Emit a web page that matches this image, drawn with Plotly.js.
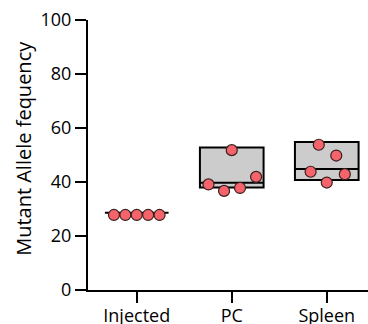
<!DOCTYPE html>
<html>
<head>
<meta charset="utf-8">
<script src="https://cdn.plot.ly/plotly-3.0.1.min.js"></script>
<style>html,body{margin:0;padding:0;background:#fff;}#chart{width:368px;height:324px;}</style>
</head>
<body>
<div id="chart"></div>
<script>
// Categories and values
const categories = ["Injected", "PC", "Spleen"];
const injectedValues = [27.8, 27.8, 27.8, 27.8, 27.8];
const pcValues = [39.1, 36.7, 51.8, 37.8, 41.9];
const spleenValues = [43.8, 39.8, 53.8, 49.8, 42.9];
// horizontal spread of the dots within each group (category units)
const injectedJitter = [-0.24, -0.12, 0, 0.12, 0.24];
const pcJitter = [-0.245, -0.081, 0, 0.087, 0.256];
const spleenJitter = [-0.17, 0, -0.084, 0.1, 0.19];
// floating box: low, middle line, high
const boxLow = [28.6, 38.0, 40.7];
const boxMid = [28.6, 39.7, 44.8];
const boxHigh = [28.6, 52.8, 54.8];
const yTicks = [0, 20, 40, 60, 80, 100];
const yTitle = "Mutant Allele fequency";

const catIdx = categories.map((c, i) => i);

const boxTrace = {
  type: "box",
  x: catIdx,
  q1: boxLow,
  median: boxMid,
  q3: boxHigh,
  lowerfence: boxLow,
  upperfence: boxHigh,
  width: 0.67,
  whiskerwidth: 0,
  fillcolor: "#cccccc",
  line: { color: "#000000", width: 2 },
  boxpoints: false,
  hoverinfo: "skip",
  showlegend: false
};

const groups = [injectedValues, pcValues, spleenValues];
const jitters = [injectedJitter, pcJitter, spleenJitter];
const xs = [], ys = [];
groups.forEach((vals, i) => {
  vals.forEach((v, j) => { xs.push(i + jitters[i][j]); ys.push(v); });
});

const pointTrace = {
  type: "scatter",
  mode: "markers",
  x: xs,
  y: ys,
  marker: { size: 11, color: "#f4646a", line: { color: "#3a2020", width: 1.2 } },
  cliponaxis: false,
  hoverinfo: "skip",
  showlegend: false
};

const layout = {
  width: 368,
  height: 324,
  margin: { l: 88, r: 0, t: 20, b: 34 },
  paper_bgcolor: "#ffffff",
  plot_bgcolor: "#ffffff",
  font: { family: "Open Sans, sans-serif", color: "#000000" },
  showlegend: false,
  xaxis: {
    range: [-0.513, 2.434],
    tickvals: catIdx,
    ticktext: categories,
    ticks: "outside",
    ticklen: 11,
    tickwidth: 2,
    tickcolor: "#000000",
    ticklabelstandoff: -3,
    showline: true,
    linecolor: "#000000",
    linewidth: 2,
    showgrid: false,
    zeroline: false,
    tickfont: { size: 18, family: "Open Sans, sans-serif", color: "#000000" },
    fixedrange: true
  },
  yaxis: {
    range: [0, 100],
    tickvals: yTicks,
    ticks: "outside",
    ticklen: 11,
    tickwidth: 2,
    tickcolor: "#000000",
    showline: true,
    linecolor: "#000000",
    linewidth: 2,
    showgrid: false,
    zeroline: false,
    tickfont: { size: 18, family: "Open Sans, sans-serif", color: "#000000" },
    fixedrange: true
  },
  annotations: [{
    text: yTitle,
    xref: "paper", yref: "paper",
    x: -0.229, y: 0.526,
    xanchor: "center", yanchor: "middle",
    textangle: -90,
    showarrow: false,
    font: { size: 20, family: "Open Sans, sans-serif", color: "#000000" }
  }]
};

Plotly.newPlot("chart", [boxTrace, pointTrace], layout, { staticPlot: true, displayModeBar: false });
</script>
</body>
</html>
